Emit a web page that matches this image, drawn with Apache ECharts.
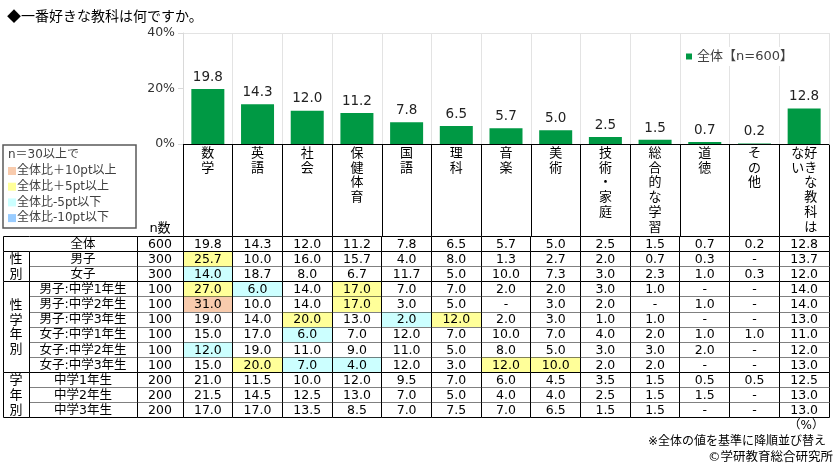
<!DOCTYPE html>
<html><head><meta charset="utf-8">
<script src="https://cdn.jsdelivr.net/npm/echarts@6/dist/echarts.min.js"></script>
<style>html,body{margin:0;padding:0;background:#fff}#c{width:840px;height:472px}</style>
</head><body><div id="c"></div>
<script>
// ---------- data ----------
const subjects = ['数学','英語','社会','保健体育','国語','理科','音楽','美術','技術・家庭','総合的な学習','道徳','その他','好きな教科はない'];
const overall = [19.8,14.3,12.0,11.2,7.8,6.5,5.7,5.0,2.5,1.5,0.7,0.2,12.8];
const rowLabels = ['全体','男子','女子','男子:中学1年生','男子:中学2年生','男子:中学3年生','女子:中学1年生','女子:中学2年生','女子:中学3年生','中学1年生','中学2年生','中学3年生'];
const rowGroups = ['','性別','性別','性学年別','性学年別','性学年別','性学年別','性学年別','性学年別','学年別','学年別','学年別'];
const nValues = [600,300,300,100,100,100,100,100,100,200,200,200];
const boys      = [25.7,10.0,16.0,15.7,4.0,8.0,1.3,2.7,2.0,0.7,0.3,null,13.7];
const girls     = [14.0,18.7,8.0,6.7,11.7,5.0,10.0,7.3,3.0,2.3,1.0,0.3,12.0];
const boysG1    = [27.0,6.0,14.0,17.0,7.0,7.0,2.0,2.0,3.0,1.0,null,null,14.0];
const boysG2    = [31.0,10.0,14.0,17.0,3.0,5.0,null,3.0,2.0,null,1.0,null,14.0];
const boysG3    = [19.0,14.0,20.0,13.0,2.0,12.0,2.0,3.0,1.0,1.0,null,null,13.0];
const girlsG1   = [15.0,17.0,6.0,7.0,12.0,7.0,10.0,7.0,4.0,2.0,1.0,1.0,11.0];
const girlsG2   = [12.0,19.0,11.0,9.0,11.0,5.0,8.0,5.0,3.0,3.0,2.0,null,12.0];
const girlsG3   = [15.0,20.0,7.0,4.0,12.0,3.0,12.0,10.0,2.0,2.0,null,null,13.0];
const grade1    = [21.0,11.5,10.0,12.0,9.5,7.0,6.0,4.5,3.5,1.5,0.5,0.5,12.5];
const grade2    = [21.5,14.5,12.5,13.0,7.0,5.0,4.0,4.0,2.5,1.5,1.5,null,13.0];
const grade3    = [17.0,17.0,13.5,8.5,7.0,7.5,7.0,6.5,1.5,1.5,null,null,13.0];
const tableRows = [overall,boys,girls,boysG1,boysG2,boysG3,girlsG1,girlsG2,girlsG3,grade1,grade2,grade3];
const yTicks = [0,20,40];
const keyLabels = ['全体比＋10pt以上','全体比＋5pt以上','全体比-5pt以下','全体比-10pt以下'];

// ---------- styling ----------
const FONT = '"DejaVu Sans","Noto Sans CJK JP",sans-serif';
const keyColors = ['#F8CBAD','#FFFF99','#CCFFFF','#99CCFF'];
const TOP = 236.5, H = 181.2;

function highlight(r, c){
  const v = tableRows[r][c];
  if (r === 0 || v == null || nValues[r] < 30) return null;
  const d = Math.round((v - overall[c]) * 10) / 10;
  if (d >= 10) return keyColors[0];
  if (d >= 5) return keyColors[1];
  if (d <= -10) return keyColors[3];
  if (d <= -5) return keyColors[2];
  return null;
}
function isGroupEnd(r){ return r === rowGroups.length - 1 || rowGroups[r] !== rowGroups[r+1]; }
function verticalLabel(name){
  const per = 6, chars = Array.from(name), cols = [];
  for (let i = 0; i < chars.length; i += per) cols.push(chars.slice(i, i + per));
  const lines = [];
  for (let i = 0; i < cols[0].length; i++){
    let s = '';
    for (let k = cols.length - 1; k >= 0; k--) s += (cols[k][i] || '　');
    lines.push(s);
  }
  return lines.join('\n');
}
function band(api, c, r){
  const p = api.coord([c, r]); const s = api.size([1, 1]);
  return {x: p[0] - s[0]/2, y: p[1] - s[1]/2, w: s[0], h: s[1], cx: p[0], cy: p[1]};
}
const crisp = v => Math.floor(v) + 0.5;
const SOLID = {stroke:'#000', lineWidth:1};
const DOT = {stroke:'#000', lineWidth:1, lineDash:[1,1]};
function ln(x1,y1,x2,y2,st){ return {type:'line', shape:{x1,y1,x2,y2}, style:st}; }

function borderRender(withLeft){
  return function(params, api){
    const c = api.value(0), r = api.value(1);
    const b = band(api, c, r);
    const x0 = crisp(b.x), x1 = crisp(b.x + b.w), y0 = crisp(b.y), y1 = crisp(b.y + b.h);
    const ch = [ln(x1,y0,x1,y1,SOLID), ln(x0,y1,x1,y1, isGroupEnd(r) ? SOLID : DOT)];
    if (r === 0) ch.push(ln(x0,y0,x1,y0,SOLID));
    if (withLeft && c === 0) ch.push(ln(x0,y0,x0,y1,SOLID));
    return {type:'group', children: ch};
  };
}
function textCell(text, b, size){
  return {type:'text', style:{text, x:b.cx, y:b.cy+0.5, align:'center', verticalAlign:'middle', fontSize:size, fontFamily:FONT, fill:'#000'}};
}

// data items (indices into the named arrays)
const cellItems = [];
tableRows.forEach((row, r) => row.forEach((v, c) => cellItems.push([c, r])));
const rowItems = rowLabels.map((_, r) => [0, r]);
const groupSpans = [];
rowGroups.forEach((g, r) => {
  if (r === 0 || g !== rowGroups[r-1]) groupSpans.push([0, r, r, g]);
  else groupSpans[groupSpans.length-1][2] = r;
});

const chart = echarts.init(document.getElementById('c'));
chart.setOption({
  animation: false,
  textStyle: {fontFamily: FONT},
  title: {text:'◆一番好きな教科は何ですか。', left:2, top:4, textStyle:{fontSize:14, fontWeight:'normal', color:'#000', fontFamily:'"Noto Sans CJK JP",sans-serif'}},
  legend: {data:['全体【n=600】'], left:682, top:47, icon:'rect', itemWidth:6, itemHeight:6, itemGap:4,
    backgroundColor:'#fff', padding:[3,4], textStyle:{fontSize:13, color:'#404040', fontFamily:FONT}},
  grid: [
    {left:183, right:11, top:33, height:111},
    {left:183, right:11, top:145, height:91},
    {left:183, right:11, top:TOP, height:H},
    {left:3, width:26, top:TOP, height:H},
    {left:29, width:108, top:TOP, height:H},
    {left:137, width:46, top:TOP, height:H}
  ],
  xAxis: [
    {type:'category', gridIndex:0, data:subjects, axisLine:{lineStyle:{color:'#000', width:1}}, axisTick:{show:false},
     axisLabel:{interval:0, formatter:verticalLabel, fontSize:13, lineHeight:14.8, margin:2, color:'#000', fontFamily:FONT},
     splitLine:{show:true, interval:0, lineStyle:{color:'#e3e3e3'}}},
    {type:'category', gridIndex:1, data:subjects, axisLine:{show:false}, axisTick:{show:false}, axisLabel:{show:false},
     splitLine:{show:true, interval:0, lineStyle:{color:'#000'}}},
    {type:'category', gridIndex:2, data:subjects, show:false},
    {type:'category', gridIndex:3, data:['g'], show:false},
    {type:'category', gridIndex:4, data:['l'], show:false},
    {type:'category', gridIndex:5, data:['n数'], position:'top', axisLine:{show:false}, axisTick:{show:false},
     axisLabel:{fontSize:13, color:'#000', margin:1, fontFamily:FONT}}
  ],
  yAxis: [
    {type:'value', gridIndex:0, min:yTicks[0], max:yTicks[yTicks.length-1], interval:yTicks[1]-yTicks[0],
     axisLabel:{formatter:'{value}%', fontSize:12.5, color:'#333', fontFamily:FONT},
     axisLine:{show:true, lineStyle:{color:'#d9d9d9'}}, axisTick:{show:true, length:5, lineStyle:{color:'#d9d9d9'}},
     splitLine:{show:true, lineStyle:{color:['rgba(0,0,0,0)','rgba(0,0,0,0)','#e3e3e3']}}},
    {type:'value', gridIndex:1, show:false, splitLine:{show:false}},
    {type:'category', gridIndex:2, data:rowLabels, inverse:true, show:false},
    {type:'category', gridIndex:3, data:rowLabels, inverse:true, show:false},
    {type:'category', gridIndex:4, data:rowLabels, inverse:true, show:false},
    {type:'category', gridIndex:5, data:rowLabels, inverse:true, show:false}
  ],
  series: [
    {type:'bar', name:'全体【n=600】', xAxisIndex:0, yAxisIndex:0, data:overall, barWidth:33,
     itemStyle:{color:'#009944'},
     label:{show:true, position:'top', distance:5, fontSize:13.5, color:'#222', fontFamily:FONT, formatter:p => p.value.toFixed(1)}},
    {type:'custom', xAxisIndex:1, yAxisIndex:1, data:[], renderItem:() => null},
    // data cells: fill + value
    {type:'custom', xAxisIndex:2, yAxisIndex:2, data:cellItems, z:2,
     renderItem:(params, api) => {
       const c = api.value(0), r = api.value(1);
       const b = band(api, c, r);
       const v = tableRows[r][c];
       const fill = highlight(r, c);
       const ch = [];
       if (fill) ch.push({type:'rect', shape:{x:b.x, y:b.y, width:b.w, height:b.h}, style:{fill}});
       ch.push(textCell(v == null ? '-' : v.toFixed(1), b, 12.5));
       return {type:'group', children:ch};
     }},
    {type:'custom', xAxisIndex:2, yAxisIndex:2, data:cellItems, z:5, renderItem:borderRender(true)},
    // row labels
    {type:'custom', xAxisIndex:4, yAxisIndex:4, data:rowItems, z:5,
     renderItem:(params, api) => {
       const r = api.value(1); const b = band(api, 0, r);
       const g = borderRender(false)(params, api);
       g.children.push(textCell(rowLabels[r], b, 12.5));
       return g;
     }},
    // n values
    {type:'custom', xAxisIndex:5, yAxisIndex:5, data:rowItems, z:5,
     renderItem:(params, api) => {
       const r = api.value(1); const b = band(api, 0, r);
       const g = borderRender(false)(params, api);
       g.children.push(textCell(String(nValues[r]), b, 12.5));
       return g;
     }},
    // group column (merged cells)
    {type:'custom', xAxisIndex:3, yAxisIndex:3, data:groupSpans.map(s => [s[0], s[1], s[2]]), z:5,
     renderItem:(params, api) => {
       const s = groupSpans[params.dataIndex];
       const t = band(api, 0, s[1]), e = band(api, 0, s[2]);
       const x0 = crisp(t.x), x1 = crisp(t.x + t.w), y0 = crisp(t.y), y1 = crisp(e.y + e.h);
       const ch = [ln(x0,y0,x0,y1,SOLID), ln(x0,y1,x1,y1,SOLID)];
       if (s[1] === 0) ch.push(ln(x0,y0,x1,y0,SOLID));
       if (s[3]) {
         ch.push(ln(x1,y0,x1,y1,SOLID));
         ch.push({type:'text', style:{text:Array.from(s[3]).join('\n'), x:t.cx, y:(y0+y1)/2 + 0.5, align:'center', verticalAlign:'middle',
           fontSize:13, lineHeight:14.7, fontFamily:FONT, fill:'#000'}});
       }
       return {type:'group', children:ch};
     }}
  ],
  graphic: [
    {type:'rect', x:3, y:145, shape:{width:133, height:83}, style:{fill:'#fff', stroke:'#595959', lineWidth:1.5}, z:10},
    {type:'text', x:8, y:155, style:{text:'n＝30以上で', fontSize:12, fontFamily:FONT, fill:'#404040', verticalAlign:'middle'}, z:11}
  ].concat(...keyLabels.map((t, i) => [
    {type:'rect', x:8, y:167 + i*15.7, shape:{width:8, height:8}, style:{fill:keyColors[i]}, z:11},
    {type:'text', x:17, y:171 + i*15.7, style:{text:t, fontSize:12, fontFamily:FONT, fill:'#404040', verticalAlign:'middle'}, z:11}
  ])).concat([
    {type:'text', right:16, top:420, style:{text:'（%）', fontSize:12, fontFamily:FONT, fill:'#000'}},
    {type:'text', right:14, top:436, style:{text:'※全体の値を基準に降順並び替え', fontSize:12, fontFamily:FONT, fill:'#000'}},
    {type:'text', right:7, top:451, style:{text:'©学研教育総合研究所', fontSize:12.5, fontFamily:FONT, fill:'#000'}}
  ])
});
</script>
</body></html>
